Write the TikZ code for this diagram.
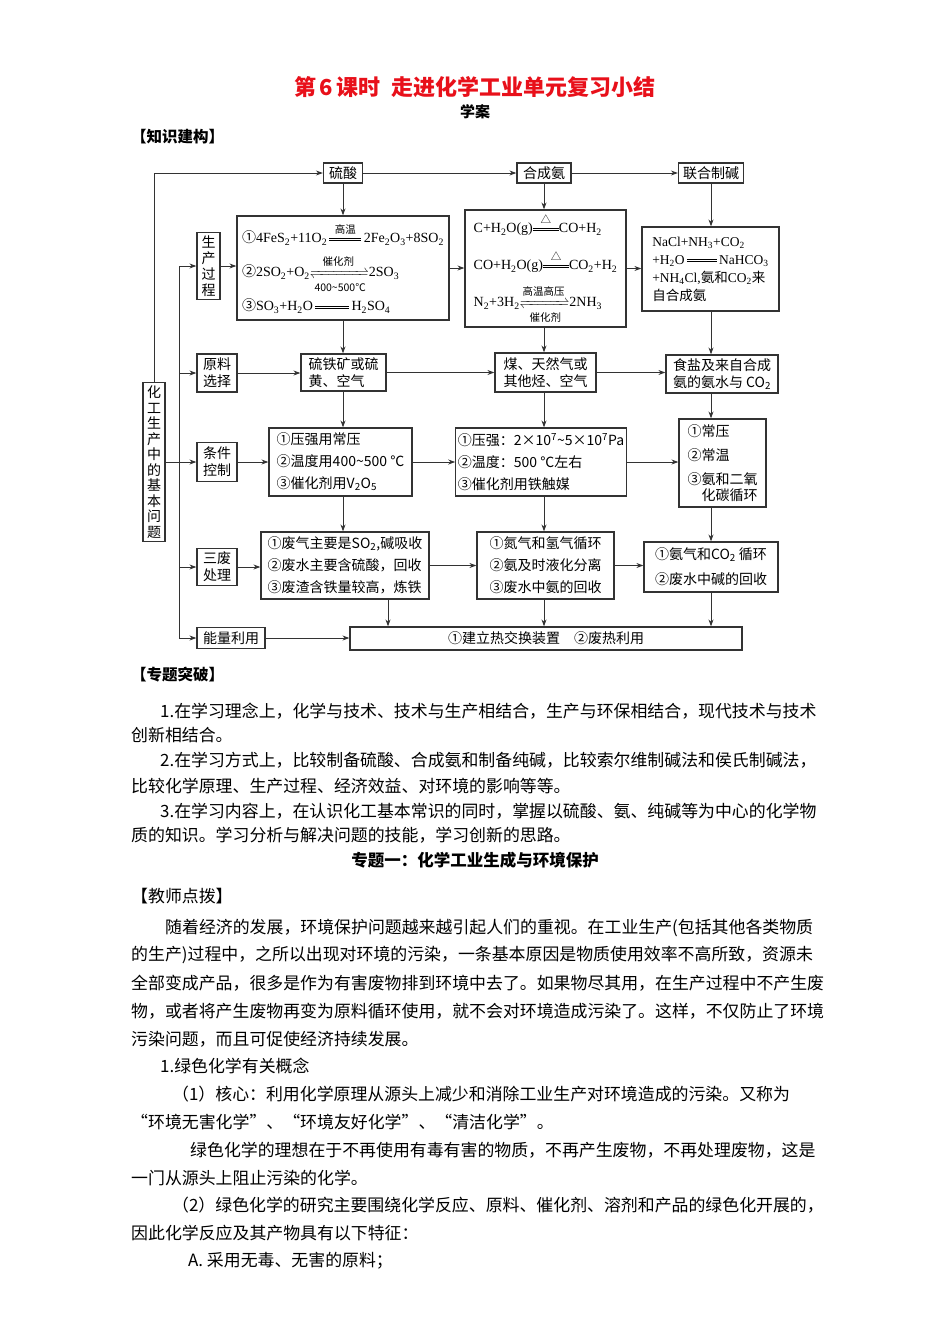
\documentclass[tikz,border=0pt]{standalone}
\usepackage{fontspec}
\usepackage{mathtools}
\setmainfont{Noto Sans CJK SC}
\newfontfamily\cjkf{Noto Sans CJK SC}
\newfontfamily\tmr{Liberation Serif}
\usetikzlibrary{arrows.meta}

\definecolor{ink}{HTML}{333333}
\definecolor{titlered}{HTML}{E8101A}

\newcommand{\sbs}[1]{\textsubscript{#1}}
\newcommand{\sps}[1]{\textsuperscript{#1}}
\newcommand{\smalllbl}[1]{\mbox{\cjkf\fontsize{10.5}{11}\selectfont #1}}
\newcommand{\uplbl}[1]{\smalllbl{#1}\rule[-3pt]{0pt}{3pt}}
\newcommand{\lowlbl}[1]{\rule{0pt}{11pt}\smalllbl{#1}}
\newcommand{\dline}[1]{\ensuremath{\mathrel{\vcenter{\hrule width #1 height .6pt\kern1.8pt\hrule width #1 height .6pt}}}}
\newcommand{\eqsign}[2]{\ensuremath{\mathrel{\mathop{\vcenter{\hrule width #1 height .6pt\kern1.8pt\hrule width #1 height .6pt}}\limits^{\uplbl{#2}}}}}
\newcommand{\revsign}[2]{\ensuremath{\xrightleftharpoons[\lowlbl{#2}]{\uplbl{#1}}}}

\begin{document}
\begin{tikzpicture}[x=1pt, y=-1pt,
  box/.style={draw=ink, line width=1.2pt, inner sep=2pt, font=\fontsize{14}{17}\selectfont},
  arr/.style={draw=ink, line width=1pt, -{Stealth[length=7pt,width=5pt]}},
  ln/.style={draw=ink, line width=1pt},
  txt/.style={anchor=west, inner sep=0pt, font=\fontsize{16.9}{20}\selectfont},
  hd/.style={anchor=west, inner sep=0pt, font=\fontsize{15.5}{18}\selectfont\bfseries}
]
\useasboundingbox (0,0) rectangle (950,1344);

% headings
\node[inner sep=0pt, text=titlered, font=\fontsize{22}{24}\selectfont\bfseries] (title) at (475,87) {第\,6\,课时\enspace 走进化学工业单元复习小结};
\node[inner sep=0pt, font=\fontsize{15}{17}\selectfont\bfseries] (xuean) at (475,112) {学案};
\node[hd] (zsjg) at (131,137) {【知识建构】};

% top row
\node[box, minimum width=39pt, minimum height=20pt] (sulf) at (343,173) {硫酸};
\node[box, minimum width=54pt, minimum height=20pt] (amm) at (544,173) {合成氨};
\node[box, minimum width=65pt, minimum height=20pt] (soda) at (711,173) {联合制碱};

% left column
\node[box, minimum width=22pt, minimum height=159pt, align=center, font=\fontsize{14}{15.5}\selectfont] (base) at (154,462) {化\\工\\生\\产\\中\\的\\基\\本\\问\\题};
\node[box, minimum width=23pt, minimum height=67pt, align=center, font=\fontsize{14}{16}\selectfont] (proc) at (208.5,266) {生\\产\\过\\程};
\node[box, minimum width=40pt, minimum height=38pt, align=center] (raw) at (217,373) {原料\\选择};
\node[box, minimum width=40pt, minimum height=39pt, align=center] (cond) at (217,462) {条件\\控制};
\node[box, minimum width=40pt, minimum height=37pt, align=center] (waste) at (217,567) {三废\\处理};
\node[box, minimum width=68pt, minimum height=21pt] (energy) at (231,638) {能量利用};
\coordinate (spine) at (179,462);

% production
\node[box, minimum width=212pt, minimum height=104pt, align=left, font=\fontsize{14}{34}\selectfont] (eqS) at (343,268)
  {①{\tmr 4FeS\sbs2+11O\sbs2\,\eqsign{32pt}{高温}\,2Fe\sbs2O\sbs3+8SO\sbs2}\\
   ②{\tmr 2SO\sbs2+O\sbs2\revsign{催化剂}{400\textasciitilde 500℃}2SO\sbs3}\\
   ③{\tmr SO\sbs3+H\sbs2O\,\dline{34pt}\,H\sbs2SO\sbs4}};
\node[box, minimum width=161pt, minimum height=117pt, align=left, font=\fontsize{14}{37}\selectfont] (eqA) at (545.5,268.5)
  {{\tmr C+H\sbs2O(g)\eqsign{26pt}{△}CO+H\sbs2}\\
   {\tmr CO+H\sbs2O(g)\eqsign{26pt}{△}CO\sbs2+H\sbs2}\\
   {\tmr N\sbs2+3H\sbs2\revsign{高温高压}{催化剂}2NH\sbs3}};
\node[box, minimum width=137pt, minimum height=84pt, align=left, font=\fontsize{13.5}{18}\selectfont] (eqN) at (710.5,269)
  {{\tmr NaCl+NH\sbs3+CO\sbs2}\\
   {\tmr +H\sbs2O\,\dline{30pt}\,NaHCO\sbs3}\\
   {\tmr +NH\sbs4Cl,}氨和{\tmr CO\sbs2}来\\
   自合成氨};

% raw materials
\node[box, minimum width=85pt, minimum height=37pt, align=left] (rawS) at (343.5,372.5) {硫铁矿或硫\\黄、空气};
\node[box, minimum width=101pt, minimum height=39pt, align=left] (rawA) at (545.5,372.5) {煤、天然气或\\其他烃、空气};
\node[box, minimum width=112pt, minimum height=38pt, align=left] (rawN) at (722,374) {食盐及来自合成\\氨的氨水与 CO\sbs2};

% conditions
\node[box, minimum width=143pt, minimum height=68pt, align=left, font=\fontsize{14}{22}\selectfont] (condS) at (340.5,462) {①压强用常压\\②温度用400\textasciitilde 500 ℃\\③催化剂用V\sbs2O\sbs5};
\node[box, minimum width=166pt, minimum height=68pt, align=left, font=\fontsize{14}{22}\selectfont] (condA) at (541,462) {①压强：2×10\sps7\textasciitilde 5×10\sps7Pa\\②温度：500 ℃左右\\③催化剂用铁触媒};
\node[box, minimum width=87pt, minimum height=88pt, align=left, font=\fontsize{14}{24}\selectfont] (condN) at (722.5,463) {①常压\\②常温\\③氨和二氧\\[-8pt]\hspace*{1em}化碳循环};

% wastes
\node[box, minimum width=168pt, minimum height=67pt, align=left, font=\fontsize{14}{22}\selectfont] (wasteS) at (345,565.5) {①废气主要是SO\sbs2,碱吸收\\②废水主要含硫酸，回收\\③废渣含铁量较高，炼铁};
\node[box, minimum width=137pt, minimum height=67pt, align=left, font=\fontsize{14}{22}\selectfont] (wasteA) at (545.5,565.5) {①氮气和氢气循环\\②氨及时液化分离\\③废水中氨的回收};
\node[box, minimum width=134pt, minimum height=50pt, align=left, font=\fontsize{14}{25}\selectfont] (wasteN) at (711,567) {①氨气和CO\sbs2 循环\\②废水中碱的回收};

% energy
\node[box, minimum width=392pt, minimum height=23pt] (heat) at (546,638.5) {①建立热交换装置\quad ②废热利用};

% connectors
\draw[arr] (base) |- (sulf);
\draw[arr] (sulf) -- (amm);
\draw[arr] (amm) -- (soda);
\draw[ln] (base) -- (base -| spine);
\draw[ln] (spine |- proc) -- (spine |- energy);
\foreach \n in {proc, raw, cond, waste, energy}
  \draw[arr] (spine |- \n) -- (\n);

\draw[arr] (proc) -- (proc -| eqS.west);
\draw[arr] (raw) -- (raw -| rawS.west);
\draw[arr] (cond) -- (cond -| condS.west);
\draw[arr] (waste) -- (waste -| wasteS.west);
\draw[arr] (energy) -- (energy -| heat.west);

\draw[arr] (eqS) -- (eqS -| eqA.west);
\draw[arr] (eqA) -- (eqA -| eqN.west);
\draw[arr] (rawS) -- (rawS -| rawA.west);
\draw[arr] (rawA) -- (rawA -| rawN.west);
\draw[arr] (condS) -- (condS -| condA.west);
\draw[arr] (condA) -- (condA -| condN.west);
\draw[arr] (wasteS) -- (wasteS -| wasteA.west);
\draw[arr] (wasteA) -- (wasteA -| wasteN.west);

\draw[arr] (sulf) -- (sulf |- eqS.north);
\draw[arr] (eqS.south -| sulf) -- (rawS.north -| sulf);
\draw[arr] (rawS.south -| sulf) -- (condS.north -| sulf);
\draw[arr] (condS.south -| sulf) -- (wasteS.north -| sulf);
\draw[arr] ([xshift=43pt]wasteS.south) -- ([xshift=43pt]wasteS.south |- heat.north);

\draw[arr] (amm) -- (amm |- eqA.north);
\draw[arr] (eqA.south -| amm) -- (rawA.north -| amm);
\draw[arr] (rawA.south -| amm) -- (condA.north -| amm);
\draw[arr] (condA.south -| amm) -- (wasteA.north -| amm);
\draw[arr] (wasteA.south -| amm) -- (heat.north -| amm);

\draw[arr] (soda) -- (soda |- eqN.north);
\draw[arr] (eqN.south -| soda) -- (rawN.north -| soda);
\draw[arr] (rawN.south -| soda) -- (condN.north -| soda);
\draw[arr] (condN.south -| soda) -- (wasteN.north -| soda);
\draw[arr] (wasteN.south -| soda) -- (heat.north -| soda);

% text
\node[hd] (ztpt) at (131,675) {【专题突破】};
\node[txt] (a1) at (160,711) {1.在学习理念上，化学与技术、技术与生产相结合，生产与环保相结合，现代技术与技术};
\node[txt] (a2) at (131,735) {创新相结合。};
\node[txt] (a3) at (160,760) {2.在学习方式上，比较制备硫酸、合成氨和制备纯碱，比较索尔维制碱法和侯氏制碱法，};
\node[txt] (a4) at (131,786) {比较化学原理、生产过程、经济效益、对环境的影响等等。};
\node[txt] (a5) at (160,811) {3.在学习内容上，在认识化工基本常识的同时，掌握以硫酸、氨、纯碱等为中心的化学物};
\node[txt] (a6) at (131,835) {质的知识。学习分析与解决问题的技能，学习创新的思路。};
\node[inner sep=0pt, font=\fontsize{16.5}{18}\selectfont\bfseries] (ztyi) at (475,860) {专题一：化学工业生成与环境保护};
\node[txt] (jsdb) at (131,896) {【教师点拨】};
\node[txt] (b1) at (165,928) {随着经济的发展，环境保护问题越来越引起人们的重视。在工业生产(包括其他各类物质};
\node[txt] (b2) at (131,955) {的生产)过程中，之所以出现对环境的污染，一条基本原因是物质使用效率不高所致，资源未};
\node[txt] (b3) at (131,983) {全部变成产品，很多是作为有害废物排到环境中去了。如果物尽其用，在生产过程中不产生废};
\node[txt] (b4) at (131,1011) {物，或者将产生废物再变为原料循环使用，就不会对环境造成污染了。这样，不仅防止了环境};
\node[txt] (b5) at (131,1039) {污染问题，而且可促使经济持续发展。};
\node[txt] (c1) at (160,1066) {1.绿色化学有关概念};
\node[txt] (c2) at (172,1094) {（1）核心：利用化学原理从源头上减少和消除工业生产对环境造成的污染。又称为};
\node[txt] (c3) at (131,1122) {“环境无害化学”、“环境友好化学”、“清洁化学”。};
\node[txt] (c4) at (190,1150) {绿色化学的理想在于不再使用有毒有害的物质，不再产生废物，不再处理废物，这是};
\node[txt] (c5) at (131,1178) {一门从源头上阻止污染的化学。};
\node[txt] (c6) at (172,1205) {（2）绿色化学的研究主要围绕化学反应、原料、催化剂、溶剂和产品的绿色化开展的，};
\node[txt] (c7) at (131,1233) {因此化学反应及其产物具有以下特征：};
\node[txt] (c8) at (188,1261) {A. 采用无毒、无害的原料；};
\end{tikzpicture}
\end{document}
